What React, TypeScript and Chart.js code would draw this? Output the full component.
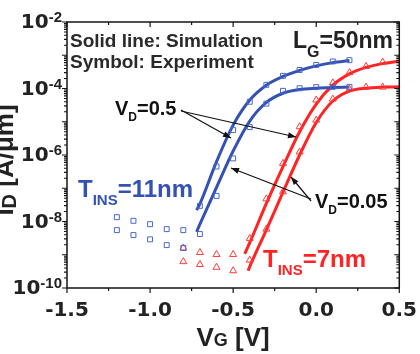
import React, { useEffect, useRef } from "react";
import { Chart, registerables } from "chart.js";
Chart.register(...registerables);

// ---------- data ----------
// Experiment, T_INS = 11 nm (blue squares)
const vgExpBlue = [-1.2, -1.1, -1.0, -0.9, -0.8, -0.7, -0.6, -0.5, -0.4, -0.3, -0.2, -0.1, 0.0, 0.1, 0.2];
const idExpBlueVd05 = [1.35e-8, 1.05e-8, 8.3e-9, 5.9e-9, 5.5e-9, 2.95e-8, 4.5e-7, 5.6e-6, 4.0e-5, 1.29e-4, 2.4e-4, 3.6e-4, 5.1e-4, 6.5e-4, 7.1e-4];
const idExpBlueVd005 = [5.5e-9, 3.9e-9, 2.9e-9, 1.95e-9, 1.6e-9, 4.2e-9, 5.9e-8, 7.9e-7, 6.9e-6, 3.5e-5, 8.5e-5, 1.02e-4, 1.1e-4, 1.12e-4, 1.12e-4];
// Experiment, T_INS = 7 nm (red triangles)
const vgExpRed = [-0.8, -0.7, -0.6, -0.5, -0.4, -0.3, -0.2, -0.1, 0.0, 0.1, 0.2, 0.3, 0.4];
const idExpRedVd05 = [1.6e-9, 1.17e-9, 1.02e-9, 1.02e-9, 3.1e-9, 4.8e-8, 5.6e-7, 7.1e-6, 4.5e-5, 1.48e-4, 3.0e-4, 4.6e-4, 6.2e-4];
const idExpRedVd005 = [6.2e-10, 5.1e-10, 4.2e-10, 3.3e-10, 6.9e-10, 5.9e-9, 7.8e-8, 1.23e-6, 1.12e-5, 4.8e-5, 9.5e-5, 1.1e-4, 1.1e-4];
// Simulation (solid lines)
const vgSimBlue = [-0.72, -0.7, -0.6, -0.5, -0.4, -0.3, -0.2, -0.1, 0.0, 0.1, 0.2];
const idSimBlueVd05 = [2.2e-8, 3.4e-8, 6.3e-7, 7.9e-6, 4.5e-5, 1.26e-4, 2.3e-4, 3.5e-4, 4.8e-4, 6.0e-4, 6.9e-4];
const idSimBlueVd005 = [4.9e-9, 8.3e-9, 1.07e-7, 1.32e-6, 1.05e-5, 3.8e-5, 7.2e-5, 9.3e-5, 1.02e-4, 1.07e-4, 1.1e-4];
const vgSimRedVd05 = [-0.43, -0.4, -0.3, -0.2, -0.1, 0.0, 0.1, 0.2, 0.3, 0.4, 0.5];
const idSimRedVd05 = [1.07e-9, 2.3e-9, 3.5e-8, 4.5e-7, 5.0e-6, 3.4e-5, 1.26e-4, 2.75e-4, 4.3e-4, 5.6e-4, 6.6e-4];
const vgSimRedVd005 = [-0.41, -0.4, -0.3, -0.2, -0.1, 0.0, 0.1, 0.2, 0.3, 0.4, 0.5];
const idSimRedVd005 = [3.3e-10, 4.4e-10, 5.6e-9, 7.6e-8, 1.0e-6, 9.5e-6, 4.2e-5, 8.3e-5, 1.02e-4, 1.1e-4, 1.12e-4];

// axes
const xMin = -1.5;
const xMax = 0.5;
const xStep = 0.5;
const yMinExp = -10;
const yMaxExp = -2;
const yLabelExps = [-2, -4, -6, -8, -10];

const BLUE = "#3352b4";
const BLUE_M = "#4a68cc";
const RED = "#ff2323";
const RED_M = "#ff3a3a";
const FONT = '"Liberation Sans", Arial, sans-serif';
const FONT_W = '"DejaVu Sans", sans-serif';
const f = (s: number) => `bold ${s}px ${FONT}`;

const pts = (xs: number[], ys: number[]) => xs.map((x, i) => ({ x, y: ys[i] }));

type Part = [string, number, number];
function drawParts(ctx: CanvasRenderingContext2D, parts: Part[], x: number, y: number, color: string) {
  ctx.fillStyle = color;
  ctx.textAlign = "left";
  ctx.textBaseline = "alphabetic";
  let cx = x;
  for (const [t, size, dy] of parts) {
    ctx.font = f(size);
    ctx.fillText(t, cx, y + dy);
    cx += ctx.measureText(t).width;
  }
}
function partsWidth(ctx: CanvasRenderingContext2D, parts: Part[]) {
  let w = 0;
  for (const [t, size] of parts) {
    ctx.font = f(size);
    w += ctx.measureText(t).width;
  }
  return w;
}
function arrow(ctx: CanvasRenderingContext2D, x1: number, y1: number, x2: number, y2: number) {
  ctx.beginPath();
  ctx.moveTo(x1, y1);
  ctx.lineTo(x2, y2);
  ctx.stroke();
  const a = Math.atan2(y2 - y1, x2 - x1);
  const L = 8, W = 3;
  ctx.beginPath();
  ctx.moveTo(x2, y2);
  ctx.lineTo(x2 - L * Math.cos(a) + W * Math.sin(a), y2 - L * Math.sin(a) - W * Math.cos(a));
  ctx.lineTo(x2 - L * Math.cos(a) - W * Math.sin(a), y2 - L * Math.sin(a) + W * Math.cos(a));
  ctx.closePath();
  ctx.fill();
}

const decor = {
  id: "decor",
  afterDraw(chart: any) {
    const { ctx, chartArea: a, scales } = chart;
    const xs = scales.x, ys = scales.y;
    ctx.save();
    // frame
    ctx.strokeStyle = "#151515";
    ctx.lineWidth = 1.5;
    ctx.strokeRect(a.left, a.top, a.right - a.left, a.bottom - a.top);
    // x ticks (major + half-step minor)
    ctx.lineWidth = 1.2;
    ctx.beginPath();
    const xt = xs.ticks.map((t: any) => t.value);
    for (let i = 0; i < xt.length; i++) {
      const px = xs.getPixelForValue(xt[i]);
      ctx.moveTo(px, a.bottom); ctx.lineTo(px, a.bottom + 5);
      ctx.moveTo(px, a.top); ctx.lineTo(px, a.top + 5);
      if (i < xt.length - 1) {
        const pm = xs.getPixelForValue((xt[i] + xt[i + 1]) / 2);
        ctx.moveTo(pm, a.bottom); ctx.lineTo(pm, a.bottom + 3);
        ctx.moveTo(pm, a.top); ctx.lineTo(pm, a.top + 3);
      }
    }
    // y ticks (decades + minor)
    for (let e = yMinExp; e <= yMaxExp; e++) {
      const py = ys.getPixelForValue(Math.pow(10, e));
      ctx.moveTo(a.left - 5, py); ctx.lineTo(a.left, py);
      ctx.moveTo(a.right - 5, py); ctx.lineTo(a.right, py);
      if (e < yMaxExp) {
        for (let m = 2; m <= 9; m++) {
          const pm = ys.getPixelForValue(m * Math.pow(10, e));
          ctx.moveTo(a.left - 3, pm); ctx.lineTo(a.left, pm);
          ctx.moveTo(a.right - 3, pm); ctx.lineTo(a.right, pm);
        }
      }
    }
    ctx.stroke();

    // y tick labels 10^n
    for (const e of yLabelExps) {
      const py = ys.getPixelForValue(Math.pow(10, e));
      const sup = String(e);
      ctx.font = `bold 15px ${FONT}`;
      const ws = ctx.measureText(sup).width;
      ctx.font = `bold 20px ${FONT_W}`;
      const wb = ctx.measureText("10").width;
      const right = a.left - 5;
      ctx.fillStyle = "#222";
      ctx.textBaseline = "middle";
      ctx.textAlign = "left";
      ctx.fillText("10", right - ws - wb, py + 1);
      ctx.font = `bold 15px ${FONT}`;
      ctx.textBaseline = "alphabetic";
      ctx.fillText(sup, right - ws, py);
    }

    // y axis title (rotated)
    ctx.save();
    ctx.translate(13, 160);
    ctx.rotate(-Math.PI / 2);
    const yt: Part[] = [["I", 26, 0], ["D", 20, 3], [" [A/\u03bcm]", 26, 0]];
    drawParts(ctx, yt, -partsWidth(ctx, yt) / 2, 0, "#222");
    ctx.restore();

    // x axis title
    const xtp: Part[] = [["V", 26, 0], ["G", 18, 0], [" [V]", 26, 0]];
    drawParts(ctx, xtp, (a.left + a.right) / 2 - partsWidth(ctx, xtp) / 2, 346, "#222");

    // annotations
    drawParts(ctx, [["Solid line: Simulation", 19, 0]], 70, 47, "#2a2a2a");
    drawParts(ctx, [["Symbol: Experiment", 19, 0]], 70, 68, "#2a2a2a");
    drawParts(ctx, [["L", 23, 0], ["G", 16, 9], ["=50nm", 23, 0]], 293, 48, "#222");
    drawParts(ctx, [["V", 20, 0], ["D", 12, 6], ["=0.5", 20, 0]], 115, 115, "#111");
    drawParts(ctx, [["V", 20, 0], ["D", 12, 6], ["=0.05", 20, 0]], 315, 208, "#111");
    drawParts(ctx, [["T", 24, 0], ["INS", 15, 8], ["=11nm", 24, 0]], 78, 197, BLUE);
    drawParts(ctx, [["T", 24, 0], ["INS", 15, 8], ["=7nm", 24, 0]], 263, 267, RED);

    // arrows
    ctx.strokeStyle = "#111";
    ctx.fillStyle = "#111";
    ctx.lineWidth = 1.2;
    arrow(ctx, 181, 110, 231, 138);
    arrow(ctx, 181, 111, 296, 137);
    arrow(ctx, 311, 199, 231, 168);
    arrow(ctx, 311, 201, 291, 177);
    ctx.restore();
  },
};

export default function App() {
  const ref = useRef<HTMLCanvasElement>(null);
  useEffect(() => {
    if (!ref.current) return;
    const marker = (data: any, style: string, color: string, r: number) => ({
      type: "scatter" as const,
      data,
      showLine: false,
      pointStyle: style,
      pointRadius: r,
      pointBorderWidth: 1,
      pointBorderColor: color,
      pointBackgroundColor: "rgba(0,0,0,0)",
    });
    const line = (data: any, color: string) => ({
      type: "line" as const,
      data,
      borderColor: color,
      borderWidth: 3,
      pointRadius: 0,
      fill: false,
      cubicInterpolationMode: "monotone" as const,
    });
    const chart = new Chart(ref.current, {
      type: "scatter",
      data: {
        datasets: [
          marker(pts(vgExpBlue, idExpBlueVd05), "rect", BLUE_M, 3.5),
          marker(pts(vgExpBlue, idExpBlueVd005), "rect", BLUE_M, 3.5),
          marker(pts(vgExpRed, idExpRedVd05), "triangle", RED_M, 4),
          marker(pts(vgExpRed, idExpRedVd005), "triangle", RED_M, 4),
          line(pts(vgSimBlue, idSimBlueVd05), BLUE),
          line(pts(vgSimBlue, idSimBlueVd005), BLUE),
          line(pts(vgSimRedVd05, idSimRedVd05), RED),
          line(pts(vgSimRedVd005, idSimRedVd005), RED),
        ] as any,
      },
      options: {
        animation: false,
        responsive: true,
        maintainAspectRatio: false,
        layout: { padding: { left: 0, top: 22, right: 18, bottom: 0 } },
        plugins: { legend: { display: false }, tooltip: { enabled: false } },
        scales: {
          x: {
            type: "linear",
            min: xMin,
            max: xMax,
            grid: { display: false },
            border: { display: false },
            ticks: {
              stepSize: xStep,
              padding: 3,
              color: "#222",
              font: { family: FONT_W, size: 20, weight: "bold" },
              callback: (v: any) => Number(v).toFixed(1),
            },
            afterFit: (s: any) => { s.height = 66; },
          },
          y: {
            type: "logarithmic",
            min: Math.pow(10, yMinExp),
            max: Math.pow(10, yMaxExp),
            grid: { display: false },
            border: { display: false },
            ticks: { display: false },
            afterFit: (s: any) => { s.width = 67; },
          },
        },
      } as any,
      plugins: [decor],
    });
    return () => chart.destroy();
  }, []);
  return (
    <div style={{ position: "fixed", left: 0, top: 0, width: 420, height: 354, background: "#fff" }}>
      <canvas ref={ref} />
    </div>
  );
}
